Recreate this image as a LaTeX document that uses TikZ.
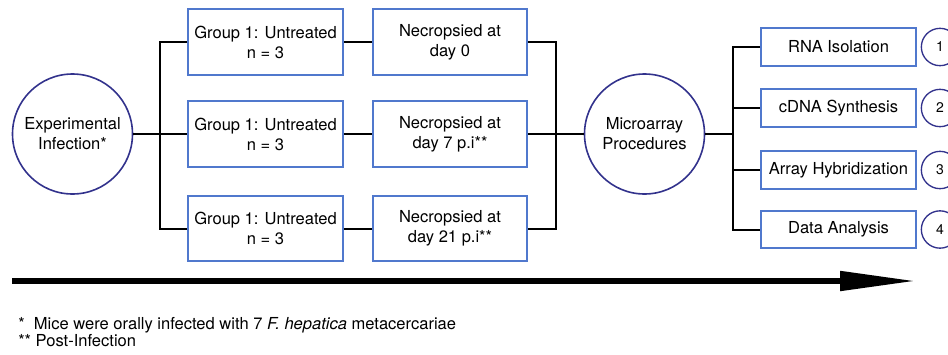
\documentclass[tikz,border=0pt]{standalone}
\usepackage{fontspec}
\setmainfont{TeX Gyre Heros}
\usepackage{xcolor}
\usetikzlibrary{arrows.meta}
\definecolor{boxblue}{RGB}{80,120,205}
\definecolor{ringblue}{RGB}{50,50,140}
\tikzset{stage/.style={draw=boxblue, line width=1.6pt, rectangle, align=center,
    minimum width=116pt, minimum height=49pt, inner sep=0pt,
    font=\fontsize{12.4}{15}\selectfont}}
\tikzset{task/.style={stage, minimum height=28pt}}
\tikzset{hub/.style={draw=ringblue, line width=1.2pt, circle, align=center,
    minimum size=90pt, inner sep=0pt, font=\fontsize{12.4}{15}\selectfont}}
\tikzset{tag/.style={draw=ringblue, line width=1pt, circle,
    minimum size=28pt, inner sep=0pt, font=\fontsize{10.5}{12}\selectfont}}
\tikzset{wire/.style={line width=1.5pt, black}}
\tikzset{footnote/.style={anchor=base west, inner sep=0pt, font=\fontsize{12.4}{14}\selectfont}}

\begin{document}
\begin{tikzpicture}[x=0.75pt, y=-0.75pt]
\useasboundingbox (0,0) rectangle (948,354);

% infection and the three groups
\node[hub] (infect) at (72.5,134) {Experimental\\Infection*};
\node[stage] (g1) at (265.5,42) {Group 1: Untreated\\n = 3};
\node[stage] (g2) at (265.5,134) {Group 1: Untreated\\n = 3};
\node[stage] (g3) at (265.5,228.5) {Group 1: Untreated\\n = 3};

\node[stage] (n1) at (450,42) {Necropsied at\\day 0};
\node[stage] (n2) at (450,134) {Necropsied at\\day 7 p.i**};
\node[stage] (n3) at (450,228.5) {Necropsied at\\day 21 p.i**};

\node[hub] (micro) at (644.5,134) {Microarray\\Procedures};

% the four procedures
\node[task] (s1) at (838.5,47) {RNA Isolation};
\node[task] (s2) at (838.5,108) {cDNA Synthesis};
\node[task] (s3) at (838.5,170) {Array Hybridization};
\node[task] (s4) at (838.5,229.5) {Data Analysis};

\node[tag] (c1) at (940,47) {1};
\node[tag] (c2) at (940,108) {2};
\node[tag] (c3) at (940,170) {3};
\node[tag] (c4) at (940,229.5) {4};

% connectors
\coordinate (busa) at (160,134);
\coordinate (busb) at (556,134);
\coordinate (busc) at (733,134);

\draw[wire] (infect.east) -- (busa);
\draw[wire] (g1.west) -| (busa) |- (g3.west);
\draw[wire] (busa) -- (g2.west);

\draw[wire] (g1) -- (n1);
\draw[wire] (g2) -- (n2);
\draw[wire] (g3) -- (n3);

\draw[wire] (n1.east) -| (busb) |- (n3.east);
\draw[wire] (n2.east) -- (micro.west);

\draw[wire] (micro.east) -- (busc);
\draw[wire] (s1.west) -| (busc) |- (s4.west);
\draw[wire] (busc |- s2) -- (s2.west);
\draw[wire] (busc |- s3) -- (s3.west);

% time arrow
\coordinate (tstart) at (12,281);
\coordinate (tend) at (916,281);
\draw[line width=4.5pt, -{Triangle[length=57pt, width=14pt]}] (tstart) -- (tend);

% footnotes
\node[footnote] (note1) at (18,329.5)
  {*\ \ Mice were orally infected with 7 \textit{F. hepatica} metacercariae};
\node[footnote] (note2) at (18,346.5) {** Post-Infection};
\end{tikzpicture}
\end{document}
